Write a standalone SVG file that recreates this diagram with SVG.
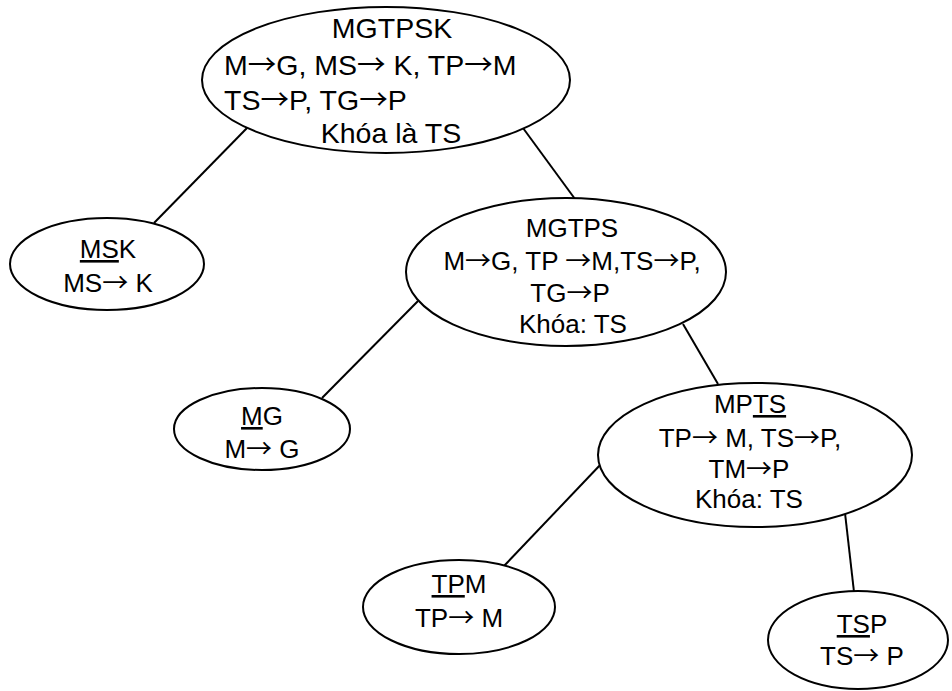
<svg xmlns="http://www.w3.org/2000/svg" width="952" height="691" viewBox="0 0 952 691">
  <style>
    .node ellipse { fill: #ffffff; stroke: #000000; stroke-width: 2; }
    .edges line { stroke: #000000; stroke-width: 2; }
    text { font-family: "Liberation Sans", Arial, sans-serif; font-size: 26px; fill: #000000; }
    .big text { font-size: 28.5px; }
    .mid { text-anchor: middle; }
    .u { text-decoration: underline; }
    /* thin full-width arrow glyph for the dependency arrows */
    .ar { font-family: "Noto Sans CJK JP", "DejaVu Sans", sans-serif; }
  </style>
  <rect width="952" height="691" fill="#ffffff"/>

  <!-- connectors between the decomposition steps -->
  <g id="edges" class="edges">
    <line x1="247" y1="128" x2="154" y2="223"/>
    <line x1="523" y1="128" x2="575" y2="199"/>
    <line x1="418" y1="301" x2="322" y2="398"/>
    <line x1="683" y1="324" x2="718" y2="384"/>
    <line x1="602" y1="463" x2="504" y2="566"/>
    <line x1="845" y1="513" x2="854" y2="592"/>
  </g>

  <!-- root relation -->
  <g id="node-mgtpsk" class="node big">
    <ellipse cx="386" cy="80" rx="184" ry="73"/>
    <text x="392" y="38" class="mid">MGTPSK</text>
    <text x="224" y="75">M<tspan class="ar">→</tspan>G, MS<tspan class="ar">→</tspan> K, TP<tspan class="ar">→</tspan>M</text>
    <text x="224" y="110">TS<tspan class="ar">→</tspan>P, TG<tspan class="ar">→</tspan>P</text>
    <text x="391" y="143" class="mid">Khóa là TS</text>
  </g>

  <g id="node-msk" class="node">
    <ellipse cx="107" cy="264" rx="97" ry="46"/>
    <text x="108" y="258" class="mid"><tspan class="u">MS</tspan>K</text>
    <text x="108" y="292" class="mid">MS<tspan class="ar">→</tspan> K</text>
  </g>

  <g id="node-mgtps" class="node">
    <ellipse cx="566" cy="272" rx="160" ry="74"/>
    <text x="572" y="237" class="mid">MGTPS</text>
    <text x="572" y="270" class="mid">M<tspan class="ar">→</tspan>G, TP <tspan class="ar">→</tspan>M,TS<tspan class="ar">→</tspan>P,</text>
    <text x="570" y="302" class="mid">TG<tspan class="ar">→</tspan>P</text>
    <text x="573" y="333" class="mid">Khóa: TS</text>
  </g>

  <g id="node-mg" class="node">
    <ellipse cx="262" cy="429" rx="88" ry="41"/>
    <text x="262" y="425" class="mid"><tspan class="u">M</tspan>G</text>
    <text x="262" y="458" class="mid">M<tspan class="ar">→</tspan> G</text>
  </g>

  <g id="node-mpts" class="node">
    <ellipse cx="755" cy="455" rx="157" ry="72"/>
    <text x="750" y="413" class="mid">MP<tspan class="u">TS</tspan></text>
    <text x="750" y="447" class="mid">TP<tspan class="ar">→</tspan> M, TS<tspan class="ar">→</tspan>P,</text>
    <text x="749" y="478" class="mid">TM<tspan class="ar">→</tspan>P</text>
    <text x="749" y="508" class="mid">Khóa: TS</text>
  </g>

  <g id="node-tpm" class="node">
    <ellipse cx="459" cy="607" rx="96" ry="47"/>
    <text x="459" y="593" class="mid"><tspan class="u">TP</tspan>M</text>
    <text x="459" y="627" class="mid">TP<tspan class="ar">→</tspan> M</text>
  </g>

  <g id="node-tsp" class="node">
    <ellipse cx="858" cy="640" rx="90" ry="49"/>
    <text x="862" y="633" class="mid"><tspan class="u">TS</tspan>P</text>
    <text x="862" y="665" class="mid">TS<tspan class="ar">→</tspan> P</text>
  </g>
</svg>
